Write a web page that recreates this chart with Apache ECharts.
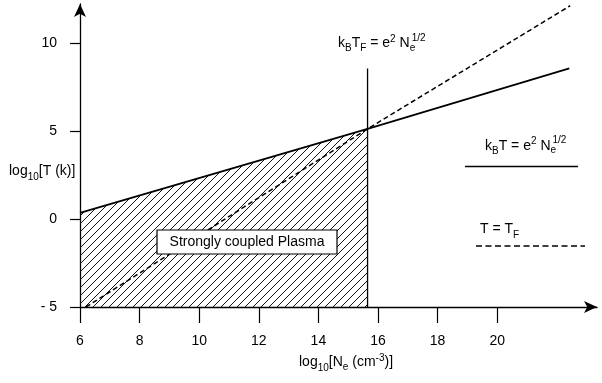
<!DOCTYPE html>
<html>
<head>
<meta charset="utf-8">
<script src="https://cdn.jsdelivr.net/npm/echarts@6/dist/echarts.min.js"></script>
<style>
html,body{margin:0;padding:0;background:#fff;}
#chart{width:602px;height:383px;}
</style>
</head>
<body>
<div id="chart"></div>
<script>
// ---- data ----
const xTicks = [6, 8, 10, 12, 14, 16, 18, 20];
const yTicks = [-5, 0, 5, 10];
const yTickLabels = ['- 5', '0', '5', '10'];
// k_B T = e^2 N_e^{1/2}  (solid)
const couplingLine = [[6, 0.34], [15.65, 5.11], [22.42, 8.54]];
// T = T_F (dashed)
const fermiLine = [[6.2, -5], [15.65, 5.11], [22.45, 12.1]];
// vertical boundary  k_B T_F = e^2 N_e^{1/2}
const boundaryLine = [[15.65, -5], [15.65, 8.54]];
// hatched strongly coupled region (under solid line, left of boundary)
const regionTop = [[6, 0.34], [15.65, 5.11]];
const regionLabel = 'Strongly coupled Plasma';

const FONT = '"Liberation Sans", Arial, Helvetica, sans-serif';
const INK = '#000';

// hatch pattern
const tile = document.createElement('canvas');
const S = 8;
tile.width = S; tile.height = S;
const tc = tile.getContext('2d');
tc.strokeStyle = '#111';
tc.lineWidth = 1;
tc.beginPath();
tc.moveTo(-1, S + 1); tc.lineTo(S + 1, -1);
tc.moveTo(-1, 1); tc.lineTo(1, -1);
tc.moveTo(S - 1, S + 1); tc.lineTo(S + 1, S - 1);
tc.stroke();

// text helper (sub/superscripts as separate pieces)
const mctx = document.createElement('canvas').getContext('2d');
function formula(x, baseline, parts) {
  const els = [];
  let cx = x;
  parts.forEach(p => {
    const [t, size, dy, opts] = p;
    const o = opts || {};
    mctx.font = size + 'px ' + FONT;
    const w = mctx.measureText(t).width;
    const px = cx + (o.dx || 0);
    els.push({
      type: 'text', x: px, y: baseline + (dy || 0) - 0.32 * size, z: 100,
      style: { text: t, font: size + 'px ' + FONT, fill: INK, verticalAlign: 'middle', align: 'left' }
    });
    if (!o.noAdvance) cx += w + (o.dx || 0);
  });
  return els;
}

const graphics = [].concat(
  formula(338, 48, [['k',14,0],['B',10,3],['T',14,0],['F',10,3],[' = e',14,0],['2',10,-6],[' N',14,0],['e',10,3,{noAdvance:true}],['1/2',10,-7,{dx:2}]]),
  formula(485, 150.5, [['k',14,0],['B',10,4],['T = e',14,0],['2',10,-6],[' N',14,0],['e',10,3,{noAdvance:true}],['1/2',10,-7,{dx:2}]]),
  formula(480, 234, [['T = T',14,0],['F',10,4]]),
  formula(9, 176, [['log',14,0],['10',10,4],['[T (k)]',14,0]]),
  formula(299, 367, [['log',14,0],['10',10,4],['[N',14,0],['e',10,3],[' (cm',14,0],['-3',10,-6],[')]',14,0]]),
  [
    { type: 'line', z: 100, shape: { x1: 465, y1: 166.5, x2: 578, y2: 166.5 }, style: { stroke: INK, lineWidth: 1.6 } },
    { type: 'line', z: 100, shape: { x1: 476, y1: 246, x2: 585, y2: 246 }, style: { stroke: INK, lineWidth: 1.5, lineDash: [6, 3.5] } },
    { type: 'rect', z: 100, shape: { x: 157, y: 230, width: 180, height: 24 }, style: { fill: '#fff', stroke: INK, lineWidth: 1.2 } },
    { type: 'text', z: 101, x: 247, y: 242.5, style: { text: regionLabel, font: '14px ' + FONT, fill: INK, align: 'center', verticalAlign: 'middle' } }
  ]
);

const chart = echarts.init(document.getElementById('chart'), null, { renderer: 'canvas' });
chart.setOption({
  animation: false,
  backgroundColor: '#fff',
  grid: { left: 80, right: 5, top: 4, bottom: 76 },
  xAxis: {
    type: 'value', min: 6, max: 23.35,
    splitLine: { show: false },
    axisLine: { onZero: false, lineStyle: { color: INK, width: 1.3 }, symbol: ['none', 'arrow'], symbolSize: [9, 13] },
    axisTick: { show: true, length: 16, lineStyle: { color: INK, width: 1.2 }, customValues: xTicks },
    axisLabel: { customValues: xTicks, margin: 27, color: INK, fontSize: 14, fontFamily: FONT },
  },
  yAxis: {
    type: 'value', min: -5, max: 12.2,
    splitLine: { show: false },
    axisLine: { onZero: false, lineStyle: { color: INK, width: 1.3 }, symbol: ['none', 'arrow'], symbolSize: [9, 13] },
    axisTick: { show: true, length: 10, lineStyle: { color: INK, width: 1.2 }, customValues: yTicks },
    axisLabel: {
      customValues: yTicks, margin: 23, color: INK, fontSize: 14, fontFamily: FONT,
      formatter: v => yTickLabels[yTicks.indexOf(v)]
    },
  },
  series: [
    {
      type: 'line', data: regionTop, showSymbol: false, z: 1,
      lineStyle: { width: 0 },
      areaStyle: { color: { image: tile, repeat: 'repeat' }, opacity: 1, origin: 'start' }
    },
    {
      type: 'line', data: couplingLine, showSymbol: false, z: 3,
      lineStyle: { color: INK, width: 1.8 }
    },
    {
      type: 'line', data: fermiLine, showSymbol: false, z: 3,
      lineStyle: { color: INK, width: 1.5, type: [5, 3] }
    },
    {
      type: 'line', data: boundaryLine, showSymbol: false, z: 3,
      lineStyle: { color: INK, width: 1.3 }
    }
  ],
  graphic: graphics
});
</script>
</body>
</html>
